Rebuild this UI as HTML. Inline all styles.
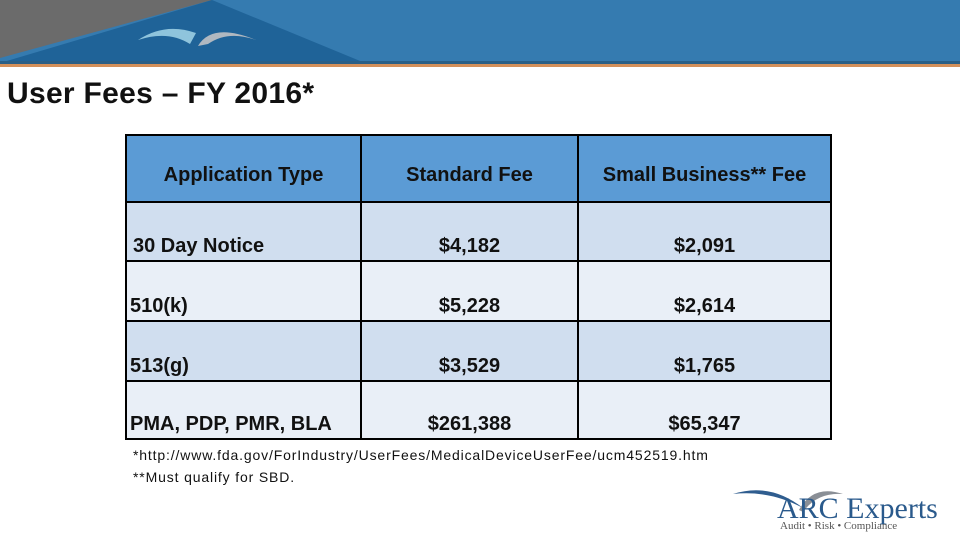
<!DOCTYPE html>
<html><head><meta charset="utf-8"><style>
body{margin:0;width:960px;height:540px;background:#fff;position:relative;overflow:hidden;font-family:"Liberation Sans",sans-serif}
.t{position:absolute;font-weight:bold;color:#111}
table{position:absolute;left:125px;top:134px;border-collapse:collapse;font-weight:bold;font-size:20px;color:#111}
td{border:2px solid #000;padding:0;vertical-align:bottom}
</style></head><body>
<svg width="960" height="68" style="position:absolute;left:0;top:0">
<rect x="0" y="0" width="960" height="63" fill="#357bb0"/>
<polygon points="0,0 212,0 0,58" fill="#6b6b6b"/>
<polygon points="0,63 212,0 365,63" fill="#1f6398"/>
<rect x="0" y="61" width="960" height="3" fill="#2a5f86"/>
<rect x="0" y="64" width="960" height="3" fill="#d4905a"/>
<path d="M138,40 Q165,22 196,33 L190,44 Q168,30 138,40Z" fill="#8fc4dc"/>
<path d="M198,46 Q212,22 256,40 Q228,30 208,44Z" fill="#b0b8c0"/>
</svg>
<div class="t" style="left:7px;top:77px;font-size:30px;letter-spacing:0.3px">User Fees – FY 2016*</div>
<table>
<tr style="background:#5b9bd5;height:67px">
<td style="width:233px;text-align:center;vertical-align:middle;padding-top:14px">Application Type</td>
<td style="width:215px;text-align:center;vertical-align:middle;padding-top:14px">Standard Fee</td>
<td style="width:251px;text-align:center;vertical-align:middle;padding-top:14px">Small Business** Fee</td></tr>
<tr style="background:#d0deef;height:59px"><td style="padding-left:6px;padding-bottom:2px">30 Day Notice</td><td style="text-align:center;padding-bottom:2px">$4,182</td><td style="text-align:center;padding-bottom:2px">$2,091</td></tr>
<tr style="background:#e9eff7;height:60px"><td style="padding-left:3px;padding-bottom:2px">510(k)</td><td style="text-align:center;padding-bottom:2px">$5,228</td><td style="text-align:center;padding-bottom:2px">$2,614</td></tr>
<tr style="background:#d0deef;height:60px"><td style="padding-left:3px;padding-bottom:2px">513(g)</td><td style="text-align:center;padding-bottom:2px">$3,529</td><td style="text-align:center;padding-bottom:2px">$1,765</td></tr>
<tr style="background:#e9eff7;height:58px"><td style="padding-left:3px;padding-bottom:2px">PMA, PDP, PMR, BLA</td><td style="text-align:center;padding-bottom:2px">$261,388</td><td style="text-align:center;padding-bottom:2px">$65,347</td></tr>
</table>
<div style="position:absolute;left:133px;top:444px;font-size:14px;letter-spacing:0.85px;color:#111;line-height:22px">*http://www.fda.gov/ForIndustry/UserFees/MedicalDeviceUserFee/ucm452519.htm<br>**Must qualify for SBD.</div>
<svg width="230" height="50" style="position:absolute;left:725px;top:482px">
<path d="M8,12 Q45,0 78,26 Q45,8 8,12Z" fill="#2f5d8f"/>
<path d="M74,28 Q88,2 118,12 Q92,10 78,30Z" fill="#8a8f96"/>
<text x="52" y="36" font-family="Liberation Serif,serif" font-size="30" fill="#2a5a8c">ARC Experts</text>
<text x="55" y="47" font-family="Liberation Serif,serif" font-size="11" fill="#555">Audit • Risk • Compliance</text>
</svg>
</body></html>
